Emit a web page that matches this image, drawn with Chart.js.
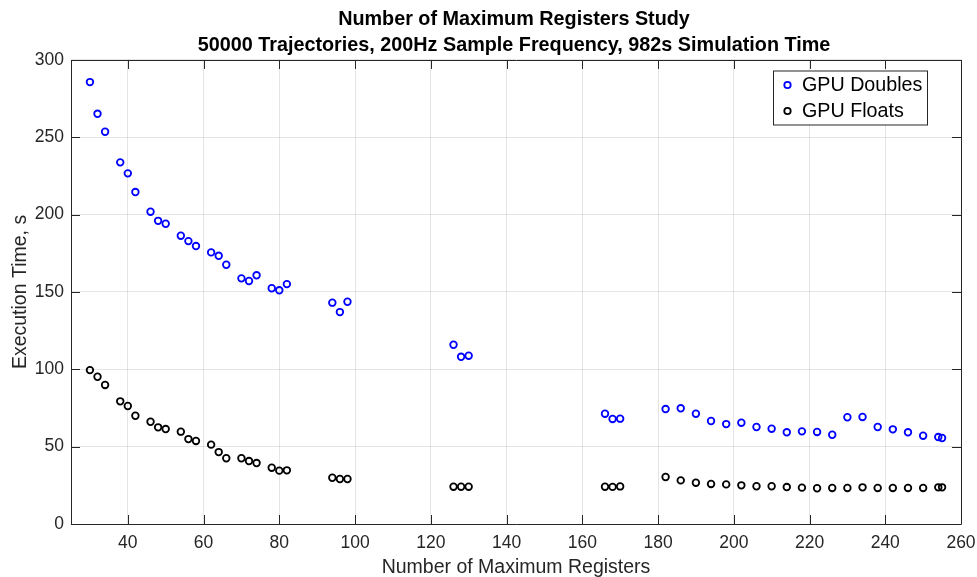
<!DOCTYPE html>
<html>
<head>
<meta charset="utf-8">
<script src="https://cdn.jsdelivr.net/npm/chart.js@4/dist/chart.umd.min.js"></script>
<style>
  html, body { margin: 0; padding: 0; background: #fff; }
  #wrap { width: 977px; height: 577px; }
</style>
</head>
<body>
<div id="wrap"><canvas id="regChart"></canvas></div>
<script>
// ================= DATA =================
const registers = [30, 32, 34, 38, 40, 42, 46, 48, 50, 54, 56, 58, 62, 64, 66, 70, 72, 74, 78, 80, 82,
  94, 96, 98, 126, 128, 130, 166, 168, 170,
  182, 186, 190, 194, 198, 202, 206, 210, 214, 218, 222, 226, 230, 234, 238, 242, 246, 250, 254, 255];

const gpuDoubles = [285.7, 265.2, 253.6, 233.8, 226.7, 214.6, 201.9, 196, 194.1, 186.4, 182.9, 179.7, 175.6, 173.4, 167.6, 158.8, 157.1, 160.8, 152.4, 151.1, 155.1,
  143.1, 137, 143.7, 115.9, 108.1, 108.8, 71.3, 67.9, 68.1,
  74.3, 74.8, 71.3, 66.6, 64.6, 65.5, 62.7, 61.6, 59.3, 59.9, 59.5, 57.7, 69, 69.2, 62.7, 61.2, 59.3, 57.1, 56.2, 55.6];

const gpuFloats = [99.5, 95.2, 89.9, 79.3, 76.3, 70, 66.1, 62.5, 61.4, 59.7, 54.9, 53.7, 51.3, 46.5, 42.5, 42.5, 40.7, 39.4, 36.4, 34.5, 34.7,
  29.9, 29.1, 29.1, 24.1, 24.1, 24.1, 24.1, 24, 24.3,
  30.4, 28.2, 26.7, 25.9, 25.6, 25, 24.4, 24.4, 23.9, 23.5, 23.1, 23.3, 23.3, 23.7, 23.3, 23.3, 23.3, 23.3, 23.7, 23.7];

const xTicks = [40, 60, 80, 100, 120, 140, 160, 180, 200, 220, 240, 260];
const yTicks = [0, 50, 100, 150, 200, 250, 300];

const titleLines = ["Number of Maximum Registers Study", "50000 Trajectories, 200Hz Sample Frequency, 982s Simulation Time"];

const FONT = "Arial, 'Liberation Sans', Helvetica, sans-serif";
const AXIS = "#262626";

// box + inward ticks, matlab style
const boxPlugin = {
  id: "matlabBox",
  afterLayout(chart) {
    // title centred over the axes, not the whole canvas
    const t = chart.titleBlock;
    if (t) { t.left = 67; t.width = t.right - t.left; }
  },
  afterDraw(chart) {
    const { ctx, chartArea: a, scales } = chart;
    ctx.save();
    ctx.strokeStyle = AXIS;
    ctx.lineWidth = 1;
    ctx.beginPath();
    ctx.rect(Math.round(a.left) + 0.5, Math.round(a.top) + 0.5, Math.round(a.right - a.left), Math.round(a.bottom - a.top));
    ctx.stroke();
    const len = 9;
    ctx.beginPath();
    xTicks.forEach(v => {
      const px = Math.round(scales.x.getPixelForValue(v)) + 0.5;
      ctx.moveTo(px, a.bottom); ctx.lineTo(px, a.bottom - len);
      ctx.moveTo(px, a.top); ctx.lineTo(px, a.top + len);
    });
    yTicks.forEach(v => {
      const py = Math.round(scales.y.getPixelForValue(v)) + 0.5;
      ctx.moveTo(a.left, py); ctx.lineTo(a.left + len, py);
      ctx.moveTo(a.right, py); ctx.lineTo(a.right - len, py);
    });
    ctx.stroke();

    // legend inside the axes
    const lx = 773, ly = 70.5, lw = 154, lh = 54;
    ctx.fillStyle = "#fff";
    ctx.fillRect(lx, ly, lw, lh);
    ctx.strokeStyle = AXIS;
    ctx.strokeRect(lx + 0.5, ly + 0.5, lw, lh);
    ctx.font = "19.7px " + FONT;
    ctx.textBaseline = "middle";
    chart.data.datasets.forEach((ds, i) => {
      const cy = ly + 14.5 + i * 26;
      ctx.beginPath();
      ctx.lineWidth = 1.8;
      ctx.strokeStyle = ds.borderColor;
      ctx.arc(lx + 14.5, cy, 3.2, 0, Math.PI * 2);
      ctx.stroke();
      ctx.fillStyle = "#000";
      ctx.fillText(ds.label, lx + 29, cy + 1);
    });
    ctx.restore();
  }
};

const ctx = document.getElementById("regChart").getContext("2d");

window.regChart = new Chart(ctx, {
  type: "scatter",
  data: {
    datasets: [
      {
        label: "GPU Doubles",
        data: registers.map((r, i) => ({ x: r, y: gpuDoubles[i] })),
        borderColor: "#0000ff",
        backgroundColor: "rgba(0,0,0,0)",
        pointRadius: 3.3,
        pointBorderWidth: 1.8
      },
      {
        label: "GPU Floats",
        data: registers.map((r, i) => ({ x: r, y: gpuFloats[i] })),
        borderColor: "#000000",
        backgroundColor: "rgba(0,0,0,0)",
        pointRadius: 3.3,
        pointBorderWidth: 1.8
      }
    ]
  },
  options: {
    responsive: true,
    maintainAspectRatio: false,
    animation: false,
    events: [],
    layout: { padding: { left: 0, right: 16, top: 0, bottom: 0 } },
    plugins: {
      legend: { display: false },
      tooltip: { enabled: false },
      title: {
        display: true,
        text: titleLines,
        color: "#000",
        font: { family: FONT, size: 19.8, weight: "bold", lineHeight: 1.33 },
        padding: { top: 6, bottom: 1.3 }
      }
    },
    scales: {
      x: {
        type: "linear",
        min: 25,
        max: 260,
        afterBuildTicks: s => { s.ticks = xTicks.map(v => ({ value: v })); },
        afterFit: s => { s.height = 53; s.paddingLeft = 0; s.paddingRight = 0; },
        grid: { color: "rgba(38,38,38,0.12)", drawTicks: false },
        border: { display: false },
        ticks: { color: AXIS, padding: 9, maxRotation: 0, font: { family: FONT, size: 17.5 } },
        title: {
          display: true,
          text: "Number of Maximum Registers",
          color: AXIS,
          font: { family: FONT, size: 19.5, lineHeight: 1.0 },
          padding: 0
        }
      },
      y: {
        min: 0,
        max: 300,
        afterBuildTicks: s => { s.ticks = yTicks.map(v => ({ value: v })); },
        afterFit: s => { s.width = 71; s.paddingTop = 0; s.paddingBottom = 0; },
        grid: { color: "rgba(38,38,38,0.12)", drawTicks: false },
        border: { display: false },
        ticks: { color: AXIS, padding: 7, font: { family: FONT, size: 17.5 } },
        title: {
          display: true,
          text: "Execution Time, s",
          color: AXIS,
          font: { family: FONT, size: 19.5, lineHeight: 1.2 },
          padding: { top: 9, bottom: 0 }
        }
      }
    }
  },
  plugins: [boxPlugin]
});
</script>
</body>
</html>
